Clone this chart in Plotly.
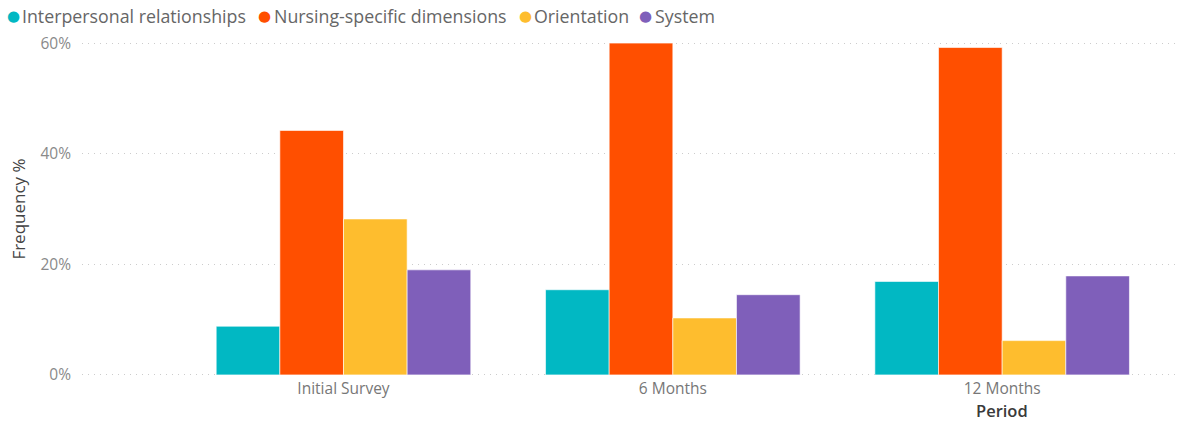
import plotly.graph_objects as go

periods = ["Initial Survey", "6 Months", "12 Months"]
series_names = ["Interpersonal relationships", "Nursing-specific dimensions", "Orientation", "System"]
interpersonal = [0.088, 0.154, 0.169]
nursing = [0.442, 0.600, 0.592]
orientation = [0.282, 0.103, 0.062]
system = [0.190, 0.145, 0.179]
colors = ["#01B8C3", "#FF4F00", "#FEBD2E", "#7F5FBA"]
y_ticks = [0, 0.2, 0.4, 0.6]

W, H = 1186, 424
ML, MR, MT, MB = 82, 6, 42, 48
PW, PH = W - ML - MR, H - MT - MB


def px_x(p):
    return (p - ML) / PW


def px_y(p):
    return (H - MB - p) / PH


fig = go.Figure()
for name, vals, c in zip(series_names, [interpersonal, nursing, orientation, system], colors):
    fig.add_trace(go.Bar(x=periods, y=vals, name=name,
                         marker=dict(color=c, line=dict(color="rgba(255,255,255,0.6)", width=1)),
                         showlegend=False))

fig.update_layout(
    width=W, height=H,
    margin=dict(l=ML, r=MR, t=MT, b=MB, autoexpand=False),
    paper_bgcolor="white", plot_bgcolor="white",
    barmode="group", bargap=0.227, bargroupgap=0,
    font=dict(family="Open Sans", color="#777"),
    showlegend=False,
    xaxis=dict(range=[-0.794, 2.54], showgrid=False, showline=False, zeroline=False,
               tickfont=dict(size=15.5, color="#777"), ticks="", ticklabelstandoff=1),
    yaxis=dict(range=[-0.002, 0.602], tickvals=y_ticks, tickformat=".0%", showgrid=True,
               gridcolor="#cccccc", griddash="1px,5px", gridwidth=1, zeroline=False,
               tickfont=dict(size=15.5, color="#8a8a8a"), ticklabelstandoff=10,
               title=dict(text="Frequency %", font=dict(size=17, color="#444"), standoff=10)),
)

# legend (drawn as text so the markers sit close to their labels)
legend_circle_px = [13, 264, 525, 645]
legend_text_px = [20, 272, 532, 653]
for name, c, cx, tx in zip(series_names, colors, legend_circle_px, legend_text_px):
    fig.add_annotation(text="●", x=px_x(cx), xref="paper", y=px_y(16), yref="paper",
                       xanchor="center", yanchor="middle", showarrow=False,
                       font=dict(size=15, color=c, family="DejaVu Sans"))
    fig.add_annotation(text=name, x=px_x(tx), xref="paper", y=px_y(16), yref="paper",
                       xanchor="left", yanchor="middle", showarrow=False,
                       font=dict(size=17.8, color="#666"))

fig.add_annotation(text="Period", x=2, xref="x", y=px_y(410), yref="paper", showarrow=False,
                   font=dict(size=16.5, color="#3a3a3a", weight=600), xanchor="center", yanchor="middle")
fig.write_html("out.html", config={"displayModeBar": False},
               post_script="document.body.style.margin='0';document.body.style.overflow='hidden';")
